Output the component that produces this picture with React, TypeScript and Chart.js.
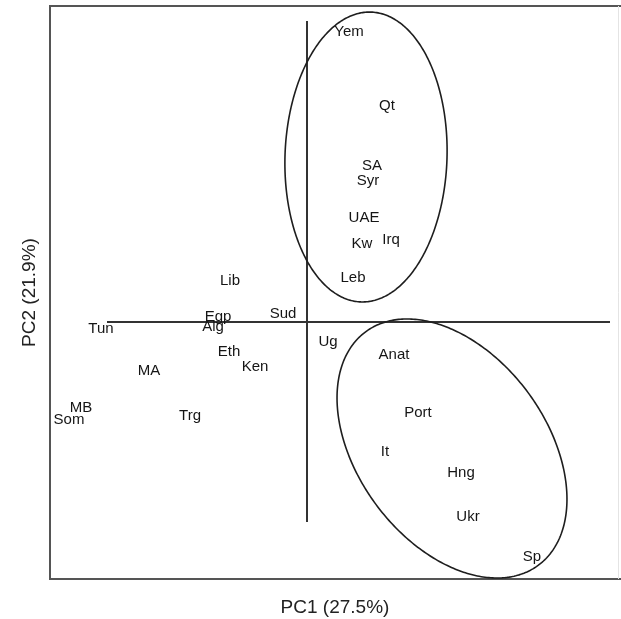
import { useEffect, useRef } from 'react';
import { Chart, registerables } from 'chart.js';

Chart.register(...registerables);

// Population labels and their PCA scores
const labels = ["Yem", "Qt", "SA", "Syr", "UAE", "Kw", "Irq", "Leb", "Lib", "Sud", "Egp", "Alg", "Tun", "Eth", "Ken", "MA", "MB", "Som", "Trg", "Ug", "Anat", "Port", "It", "Hng", "Ukr", "Sp"];
const pc1 = [0.42, 0.80, 0.65, 0.61, 0.57, 0.55, 0.84, 0.46, -0.77, -0.24, -0.89, -0.94, -2.06, -0.78, -0.52, -1.58, -2.26, -2.38, -1.17, 0.21, 0.87, 1.11, 0.78, 1.54, 1.61, 2.25];
const pc2 = [2.92, 2.18, 1.58, 1.43, 1.06, 0.80, 0.84, 0.46, 0.43, 0.10, 0.07, -0.03, -0.05, -0.28, -0.43, -0.47, -0.84, -0.96, -0.92, -0.18, -0.31, -0.89, -1.28, -1.49, -1.93, -2.33];

// Reference axes through the origin
const hLineX = [-2.0, 3.03];
const hLineY = [0, 0];
const vLineX = [0, 0];
const vLineY = [3.01, -2.0];

// Cluster ellipses: centre, semi-axes, rotation (degrees)
const ellipseCx = [0.59, 1.45];
const ellipseCy = [1.65, -1.265];
const ellipseRx = [0.81, 1.452];
const ellipseRy = [1.45, 0.944];
const ellipseAngle = [-2, -53.5];

// Axis ranges and titles
const xRange = [-2.57, 3.13];
const yRange = [-2.57, 3.16];
const xTitle = "PC1 (27.5%)";
const yTitle = "PC2 (21.9%)";

const FONT = '"Liberation Sans", Arial, Helvetica, sans-serif';

const overlayPlugin = {
  id: 'overlay',
  beforeDatasetsDraw(chart: any) {
    const { ctx, chartArea } = chart;
    ctx.save();
    ctx.lineWidth = 2;
    ctx.strokeStyle = '#555555';
    ctx.beginPath();
    ctx.moveTo(chartArea.right + 1, chartArea.top);
    ctx.lineTo(chartArea.left, chartArea.top);
    ctx.lineTo(chartArea.left, chartArea.bottom);
    ctx.lineTo(chartArea.right + 1, chartArea.bottom);
    ctx.stroke();
    ctx.strokeStyle = '#e4e4e4';
    ctx.lineWidth = 1;
    ctx.beginPath();
    ctx.moveTo(chartArea.right - 1.5, chartArea.top);
    ctx.lineTo(chartArea.right - 1.5, chartArea.bottom);
    ctx.stroke();
    ctx.restore();
  },
  afterDatasetsDraw(chart: any) {
    const { ctx } = chart;
    const xs = chart.scales.x;
    const ys = chart.scales.y;
    ctx.save();
    // ellipses
    ctx.strokeStyle = '#1e1e1e';
    ctx.lineWidth = 1.6;
    for (let e = 0; e < ellipseCx.length; e++) {
      const th = (ellipseAngle[e] * Math.PI) / 180;
      ctx.beginPath();
      for (let i = 0; i <= 360; i++) {
        const t = (i * Math.PI) / 180;
        const ex = ellipseRx[e] * Math.cos(t);
        const ey = ellipseRy[e] * Math.sin(t);
        const x = ellipseCx[e] + ex * Math.cos(th) - ey * Math.sin(th);
        const y = ellipseCy[e] + ex * Math.sin(th) + ey * Math.cos(th);
        const px = xs.getPixelForValue(x);
        const py = ys.getPixelForValue(y);
        if (i === 0) ctx.moveTo(px, py);
        else ctx.lineTo(px, py);
      }
      ctx.closePath();
      ctx.stroke();
    }
    // point labels
    const meta = chart.getDatasetMeta(0);
    ctx.fillStyle = '#151515';
    ctx.font = `15px ${FONT}`;
    ctx.textAlign = 'center';
    ctx.textBaseline = 'middle';
    meta.data.forEach((pt: any, i: number) => {
      ctx.fillText(labels[i], pt.x, pt.y + 2);
    });
    ctx.restore();
  },
};

export default function App() {
  const ref = useRef<HTMLCanvasElement | null>(null);

  useEffect(() => {
    if (!ref.current) return;
    const chart = new Chart(ref.current, {
      type: 'scatter',
      data: {
        datasets: [
          {
            label: 'populations',
            data: labels.map((_, i) => ({ x: pc1[i], y: pc2[i] })),
            pointRadius: 0,
            pointHoverRadius: 0,
            showLine: false,
          } as any,
          {
            type: 'line',
            label: 'h',
            data: hLineX.map((x, i) => ({ x, y: hLineY[i] })),
            borderColor: '#333333',
            borderWidth: 2,
            pointRadius: 0,
            showLine: true,
            fill: false,
          } as any,
          {
            type: 'line',
            label: 'v',
            data: vLineX.map((x, i) => ({ x, y: vLineY[i] })),
            borderColor: '#333333',
            borderWidth: 2,
            pointRadius: 0,
            showLine: true,
            fill: false,
          } as any,
        ],
      },
      options: {
        animation: false,
        responsive: false,
        events: [],
        layout: { padding: { top: 6, right: 1, left: 0, bottom: 0 } },
        plugins: {
          legend: { display: false },
          tooltip: { enabled: false },
        },
        scales: {
          x: {
            type: 'linear',
            min: xRange[0],
            max: xRange[1],
            ticks: { display: false },
            grid: { display: false },
            border: { display: false },
            title: {
              display: true,
              text: xTitle,
              color: '#222222',
              font: { family: FONT, size: 19 },
              padding: { top: 0, bottom: 0 },
            },
            afterFit: (scale: any) => {
              scale.height = 40;
            },
          },
          y: {
            type: 'linear',
            min: yRange[0],
            max: yRange[1],
            ticks: { display: false },
            grid: { display: false },
            border: { display: false },
            title: {
              display: true,
              text: yTitle,
              color: '#222222',
              font: { family: FONT, size: 19 },
              padding: { top: 18, bottom: 0 },
            },
            afterFit: (scale: any) => {
              scale.width = 50;
            },
          },
        },
      } as any,
      plugins: [overlayPlugin],
    });
    return () => chart.destroy();
  }, []);

  return (
    <div style={{ position: 'fixed', left: 0, top: 0, width: 621, height: 619, background: '#ffffff' }}>
      <canvas ref={ref} width={621} height={619} />
    </div>
  );
}
